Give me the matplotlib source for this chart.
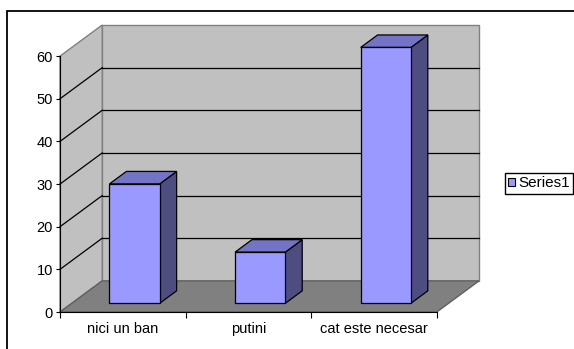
import matplotlib
matplotlib.use("Agg")
import matplotlib.pyplot as plt
from matplotlib.patches import Polygon, Rectangle, Patch

categories = ["nici un ban", "putini", "cat este necesar"]
values = [28, 12, 60]
series_name = "Series1"
y_ticks = [0, 10, 20, 30, 40, 50, 60]
ymax = 60

# fake 3d: offset of the back wall in data units, bar depth range
dx, dy = 0.336, 7.3
d0, d1 = 0.28, 0.68
bar_w = 0.4

c_wall = "#C0C0C0"
c_floor = "#808080"
c_front = "#9999FF"
c_top = "#7474C6"
c_side = "#4D4D80"

plt.rcParams["font.family"] = ["Liberation Sans", "DejaVu Sans"]
plt.rcParams["font.size"] = 10.5

W, H = 574, 349
fig = plt.figure(figsize=(W / 100, H / 100), dpi=100)

# plot area in pixels: front-left corner of axis to back-right top of wall
left, right, top, bottom = 60, 479, 25, 312
ax = fig.add_axes([left / W, 1 - bottom / H, (right - left) / W, (bottom - top) / H])
n = len(categories)
ax.set_xlim(0, n + dx)
ax.set_ylim(0, ymax + dy)
ax.patch.set_visible(False)

# walls and floor
back = Rectangle((dx, dy), n, ymax, facecolor=c_wall, edgecolor="#808080", lw=1, zorder=1)
side_wall = Polygon([(0, 0), (dx, dy), (dx, ymax + dy), (0, ymax)], closed=True,
                    facecolor=c_wall, edgecolor="#808080", lw=1, zorder=1)
floor = Polygon([(0, 0), (n, 0), (n + dx, dy), (dx, dy)], closed=True,
                facecolor=c_floor, edgecolor="#606060", lw=1, zorder=1.5)
for p in (back, side_wall, floor):
    p.set_clip_on(False)
    ax.add_patch(p)

# gridlines on back and side wall
for v in y_ticks[1:-1]:
    ax.plot([dx, n + dx], [v + dy, v + dy], color="black", lw=0.9, zorder=1.2, clip_on=False)
    ax.plot([0, dx], [v, v + dy], color="black", lw=0.9, zorder=1.2, clip_on=False)

# bars
for i, v in enumerate(values):
    x0 = i + 0.5 - bar_w / 2
    sx, sy = d0 * dx, d0 * dy
    bx, by = d1 * dx, d1 * dy
    x1 = x0 + bar_w
    front = Rectangle((x0 + sx, sy), bar_w, v)
    top_face = Polygon([(x0 + sx, v + sy), (x1 + sx, v + sy), (x1 + bx, v + by), (x0 + bx, v + by)])
    side = Polygon([(x1 + sx, sy), (x1 + bx, by), (x1 + bx, v + by), (x1 + sx, v + sy)])
    for p, c in ((side, c_side), (top_face, c_top), (front, c_front)):
        p.set_facecolor(c)
        p.set_edgecolor("black")
        p.set_linewidth(0.9)
        p.set_zorder(3)
        p.set_clip_on(False)
        ax.add_patch(p)

# axes
for s in ("top", "right"):
    ax.spines[s].set_visible(False)
ax.spines["left"].set_bounds(0, ymax)
ax.spines["bottom"].set_bounds(0, n)
ax.spines["left"].set_zorder(4)
ax.spines["bottom"].set_zorder(4)

ax.set_yticks(y_ticks)
ax.tick_params(axis="y", direction="out", length=3, width=0.8, pad=2)
ax.set_xticks(range(n + 1))
ax.set_xticklabels([])
ax.set_xticks([i + 0.5 for i in range(n)], minor=True)
ax.set_xticklabels(categories, minor=True)
ax.tick_params(axis="x", which="major", direction="out", length=4, width=0.8)
ax.tick_params(axis="x", which="minor", length=0, pad=7)

# legend
handle = Patch(facecolor=c_front, edgecolor="black", lw=0.8)
fig.legend([handle], [series_name], loc="center left",
           bbox_to_anchor=(505 / W, 1 - 183.5 / H), bbox_transform=fig.transFigure,
           frameon=True, fancybox=False, edgecolor="black", framealpha=1,
           borderpad=0.2, handlelength=0.45, handleheight=0.45, handletextpad=0.2,
           borderaxespad=0, fontsize=11)

# outer chart border
fig.patches.append(Rectangle((7 / W, -0.1), 1.2, 1 - 11 / H + 0.1, transform=fig.transFigure,
                             fill=False, edgecolor="black", lw=1.3))

fig.savefig("out.png", dpi=100)
